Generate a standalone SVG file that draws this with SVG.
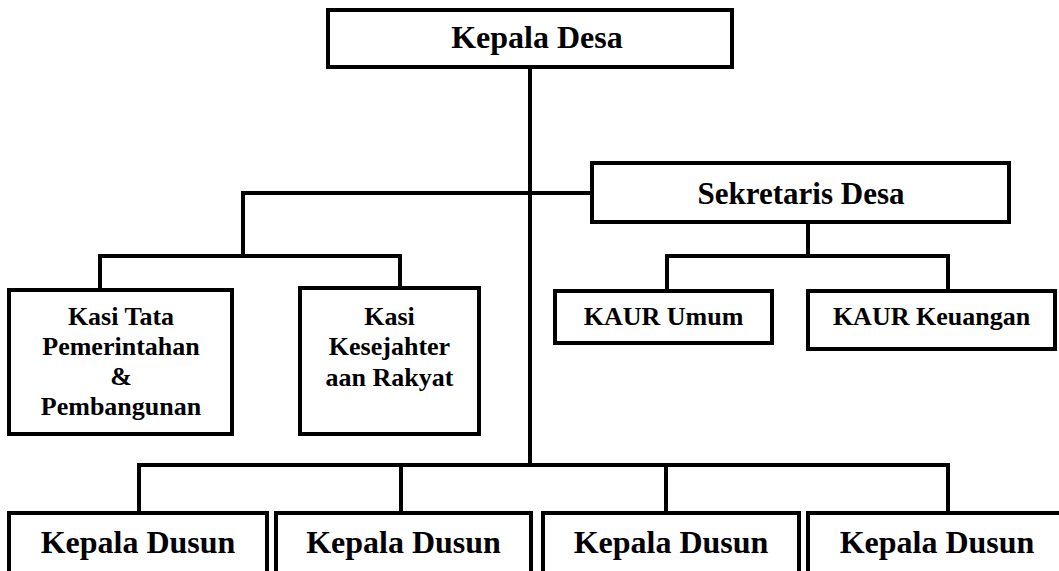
<svg xmlns="http://www.w3.org/2000/svg" width="1059" height="571" viewBox="0 0 1059 571">
<style>
.box{fill:#fff;stroke:#000;stroke-width:4}
.ln{fill:none;stroke:#000;stroke-width:4;stroke-linecap:square}
.t{font-family:"Liberation Serif","Times New Roman",serif;font-weight:bold;fill:#000;text-anchor:middle}
.big{font-size:32px}
.mid{font-size:31px}
.sm{font-size:26px}
</style>
<rect width="1059" height="571" fill="#fff"/>
<g id="connectors">
<path class="ln" d="M530 67V465"/>
<path class="ln" d="M243 193H592"/>
<path class="ln" d="M243 193V256M100 256H400M100 256V290M400 256V288"/>
<path class="ln" d="M808 222V256M667 256H948M667 256V291M948 256V291"/>
<path class="ln" d="M139 465H948M139 465V513M401 465V513M666 465V513M948 465V513"/>
</g>
<g id="kepala-desa">
<rect class="box" x="328" y="10" width="404" height="57"/>
<text class="t big" x="537" y="48">Kepala Desa</text>
</g>
<g id="sekretaris-desa">
<rect class="box" x="592" y="163" width="417" height="59"/>
<text class="t mid" x="801" y="204">Sekretaris Desa</text>
</g>
<g id="kasi-tata">
<rect class="box" x="9" y="290" width="223" height="144"/>
<text class="t sm" x="121" y="325">Kasi Tata</text>
<text class="t sm" x="121" y="355">Pemerintahan</text>
<text class="t sm" x="121" y="385">&amp;</text>
<text class="t sm" x="121" y="415">Pembangunan</text>
</g>
<g id="kasi-kesejahteraan">
<rect class="box" x="300" y="288" width="179" height="146"/>
<text class="t sm" x="389.5" y="325">Kasi</text>
<text class="t sm" x="389.5" y="355">Kesejahter</text>
<text class="t sm" x="389.5" y="386">aan Rakyat</text>
</g>
<g id="kaur-umum">
<rect class="box" x="555" y="291" width="217" height="52"/>
<text class="t sm" x="663.5" y="325">KAUR Umum</text>
</g>
<g id="kaur-keuangan">
<rect class="box" x="808" y="291" width="247" height="58"/>
<text class="t sm" x="931.5" y="325">KAUR Keuangan</text>
</g>
<g id="kepala-dusun-1">
<rect class="box" x="9" y="513" width="258" height="90"/>
<text class="t big" x="138" y="553">Kepala Dusun</text>
</g>
<g id="kepala-dusun-2">
<rect class="box" x="276" y="513" width="255" height="90"/>
<text class="t big" x="403.5" y="553">Kepala Dusun</text>
</g>
<g id="kepala-dusun-3">
<rect class="box" x="543" y="513" width="256" height="90"/>
<text class="t big" x="671" y="553">Kepala Dusun</text>
</g>
<g id="kepala-dusun-4">
<rect class="box" x="808" y="513" width="262" height="90"/>
<text class="t big" x="937" y="553">Kepala Dusun</text>
</g>
</svg>
